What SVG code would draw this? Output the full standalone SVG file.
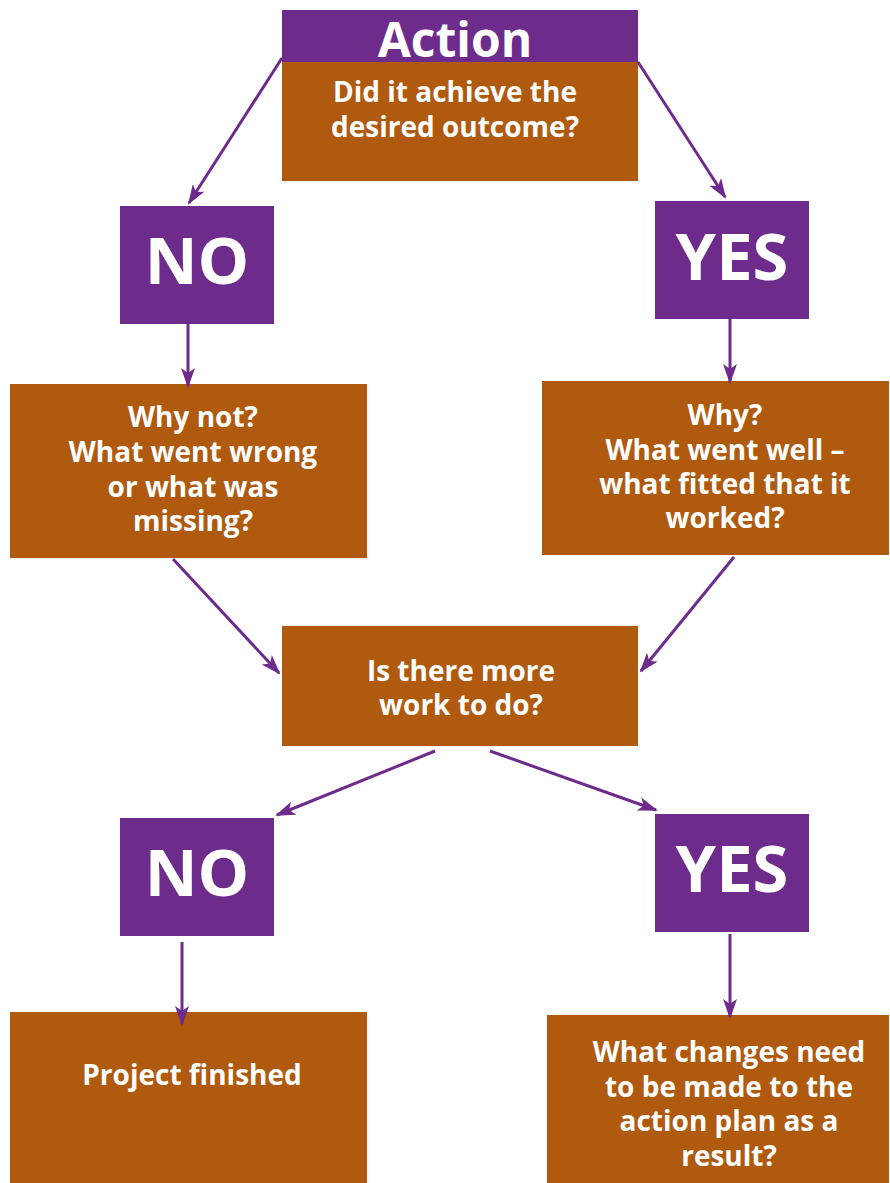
<svg xmlns="http://www.w3.org/2000/svg" width="890" height="1183" viewBox="0 0 890 1183">
<defs>
<style>
.p{fill:#6D2B8C}
.o{fill:#B05A10}
.t{font-family:"Open Sans","Liberation Sans",sans-serif;font-weight:700;fill:#fff;text-anchor:middle;font-size:28px}
.big{font-size:65px}
.c{stroke:#6D2B8C;stroke-width:3;fill:none;marker-end:url(#ah)}
</style>
<marker id="ah" viewBox="0 0 20 14" refX="18" refY="7" markerWidth="20" markerHeight="14" markerUnits="userSpaceOnUse" orient="auto">
<path d="M0,0 L20,7 L0,14 L5,7 Z" fill="#6D2B8C"/>
</marker>
</defs>
<rect width="890" height="1183" fill="#fff"/>
<g id="action">
<rect class="o" x="282" y="62" width="356" height="119"/>
<rect class="p" x="282" y="10" width="356" height="52"/>
<text class="t" x="455" y="57" style="font-size:48px">Action</text>
<text class="t" x="455" y="102">Did it achieve the</text>
<text class="t" x="455" y="137">desired outcome?</text>
</g>
<g id="no1">
<rect class="p" x="120" y="206" width="154" height="118"/>
<text class="t big" x="197" y="284">NO</text>
</g>
<g id="yes1">
<rect class="p" x="655" y="201" width="154" height="118"/>
<text class="t big" x="732" y="280">YES</text>
</g>
<g id="whynot">
<rect class="o" x="10" y="384" width="357" height="174"/>
<text class="t" x="193" y="427">Why not?</text>
<text class="t" x="193" y="462">What went wrong</text>
<text class="t" x="193" y="497">or what was</text>
<text class="t" x="193" y="531">missing?</text>
</g>
<g id="why">
<rect class="o" x="542" y="381" width="347" height="174"/>
<text class="t" x="725" y="425">Why?</text>
<text class="t" x="725" y="460">What went well –</text>
<text class="t" x="725" y="494">what fitted that it</text>
<text class="t" x="725" y="528">worked?</text>
</g>
<g id="more">
<rect class="o" x="282" y="626" width="356" height="120"/>
<text class="t" x="461" y="681">Is there more</text>
<text class="t" x="461" y="715">work to do?</text>
</g>
<g id="no2">
<rect class="p" x="120" y="818" width="154" height="118"/>
<text class="t big" x="197" y="896">NO</text>
</g>
<g id="yes2">
<rect class="p" x="655" y="814" width="154" height="118"/>
<text class="t big" x="732" y="892">YES</text>
</g>
<g id="finished">
<rect class="o" x="10" y="1012" width="357" height="171"/>
<text class="t" x="192" y="1085">Project finished</text>
</g>
<g id="changes">
<rect class="o" x="547" y="1015" width="342" height="168"/>
<text class="t" x="729" y="1062">What changes need</text>
<text class="t" x="729" y="1097">to be made to the</text>
<text class="t" x="729" y="1131">action plan as a</text>
<text class="t" x="729" y="1166">result?</text>
</g>
<g id="connectors">
<line class="c" x1="282" y1="58" x2="189" y2="203"/>
<line class="c" x1="638" y1="62" x2="725" y2="197"/>
<line class="c" x1="188" y1="324" x2="188" y2="386"/>
<line class="c" x1="730" y1="319" x2="730" y2="382"/>
<line class="c" x1="173" y1="559" x2="279" y2="673"/>
<line class="c" x1="734" y1="557" x2="641" y2="671"/>
<line class="c" x1="435" y1="751" x2="277" y2="815"/>
<line class="c" x1="490" y1="751" x2="656" y2="810"/>
<line class="c" x1="182" y1="942" x2="182" y2="1024"/>
<line class="c" x1="730" y1="934" x2="730" y2="1017"/>
</g>
</svg>
